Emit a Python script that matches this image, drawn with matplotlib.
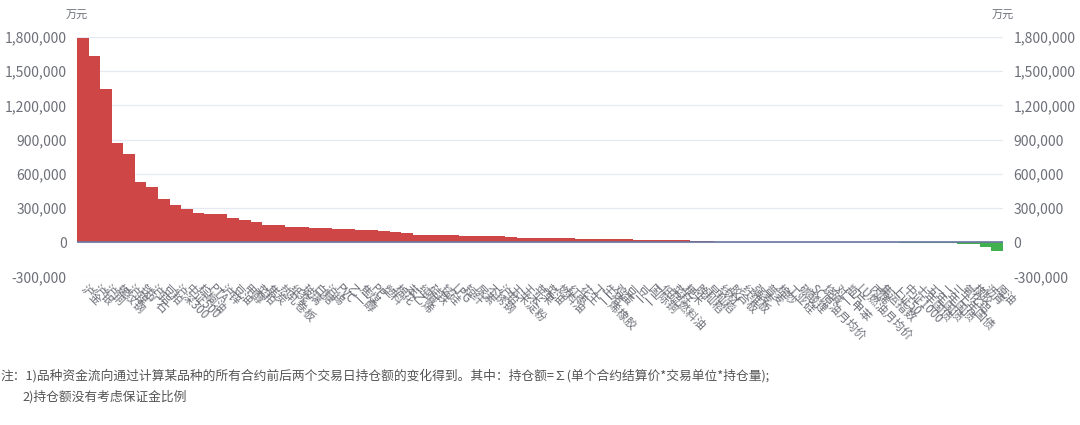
import matplotlib
matplotlib.use("Agg")
import matplotlib.pyplot as plt
from matplotlib.ticker import FuncFormatter

plt.rcParams['font.family'] = ['Noto Sans CJK SC', 'DejaVu Sans']

DPI = 100

# 品种名称 (从左到右)
names = ["沪金", "沪银", "沪铜", "螺纹钢", "沪镍", "铁矿石", "沪铝", "豆粕", "沪深300", "中证500",
         "棕榈油", "PTA", "沪锌", "豆油", "甲醇", "菜粕", "焦炭", "热轧卷板", "纸浆", "玻璃",
         "白糖", "沪锡", "PVC", "乙二醇", "焦煤", "PP", "塑料", "棉花", "苯乙烯", "纯碱",
         "硅铁", "锰硅", "LPG", "短纤", "尿素", "不锈钢", "沪铅", "玉米淀粉", "玉米", "苹果",
         "菜油", "燃料油", "红枣", "花生", "丁二烯橡胶", "生猪", "鸡蛋", "豆一", "豆二", "国际铜",
         "低硫燃料油", "菜籽", "粳米", "晚籼稻", "早籼稻", "线材", "胶合板", "纤维板", "强麦", "普麦",
         "棉纱", "工业硅", "碳酸锂", "SC原油月均价", "烧碱", "对二甲苯", "瓶片", "LU燃油月均价", "丙烯", "集运指数",
         "上证50", "中证1000", "十年国债", "五年国债", "二年国债", "三十年国债", "氧化铝", "橡胶", "沥青", "原油"]

# 资金流向 (万元)
flows = [1795000, 1633000, 1341000, 868000, 774000, 531000, 482000, 380000, 324000, 292000,
         257000, 250000, 245000, 210000, 195000, 178000, 154000, 149000, 134000, 131000,
         125000, 122000, 118000, 115000, 110000, 105000, 100000, 86000, 83000, 67000,
         65000, 63000, 60000, 58000, 56000, 55000, 53000, 48000, 40000, 39000,
         38000, 37000, 35000, 32000, 31000, 30000, 27000, 25000, 22000, 21000,
         20000, 19000, 16000, 14000, 13000, 3000, 2500, 2000, 1500, 1200,
         1000, 800, 600, 400, 300, 200, 100, -300, -600, -1000,
         -1500, -2000, -3000, -5000, -8000, -10000, -15000, -15000, -38000, -76000]

y_ticks = [-300000, 0, 300000, 600000, 900000, 1200000, 1500000, 1800000]

note_lines = ["注：1)品种资金流向通过计算某品种的所有合约前后两个交易日持仓额的变化得到。其中：持仓额=∑(单个合约结算价*交易单位*持仓量);",
              "2)持仓额没有考虑保证金比例"]

RED = "#cf4646"
GREEN = "#41b04f"
GREY = "#6e7079"

fig = plt.figure(figsize=(1080 / DPI, 425 / DPI), dpi=DPI)
ax = fig.add_axes([77 / 1080, 1 - 276.5 / 425, 926 / 1080, 239.5 / 425])

xs = list(range(len(names)))
colors = [RED if v >= 0 else GREEN for v in flows]
ax.bar(xs, flows, width=1.0, color=colors, linewidth=0, zorder=2)
ax.axhline(0, color="#6a76a0", linewidth=1.2, zorder=3)

ax.set_xlim(-0.5, len(names) - 0.5)
ax.set_ylim(y_ticks[0], y_ticks[-1])
ax.set_yticks(y_ticks)
ax.yaxis.set_major_formatter(FuncFormatter(lambda v, p: f"{int(v):,}"))
ax.grid(axis="y", color="#e6e9f2", linewidth=0.9, zorder=0)
ax.tick_params(axis="y", left=False, right=False, labelleft=True, labelright=True,
               labelsize=10, labelcolor=GREY, pad=4)

ax.set_xticks(xs)
ax.set_xticklabels(names, rotation=-45, ha="left", va="center", rotation_mode="anchor")
ax.tick_params(axis="x", bottom=False, labelsize=8.5, labelcolor=GREY, pad=4)

for s in ax.spines.values():
    s.set_visible(False)

fig.text(77 / 1080, 1 - 16 / 425, "万元", ha="center", va="center", fontsize=8, color=GREY)
fig.text(1003 / 1080, 1 - 16 / 425, "万元", ha="center", va="center", fontsize=8, color=GREY)

fig.text(0, 1 - 376 / 425, note_lines[0], ha="left", va="center", fontsize=9.2, color="#555555")
fig.text(22 / 1080, 1 - 397 / 425, note_lines[1], ha="left", va="center", fontsize=9.2, color="#555555")

fig.savefig("out.png", dpi=DPI)
